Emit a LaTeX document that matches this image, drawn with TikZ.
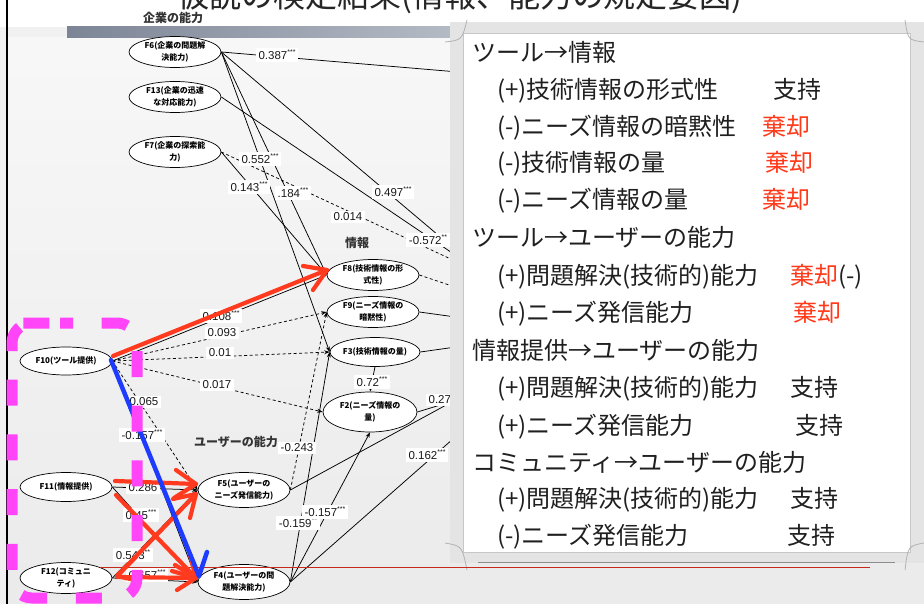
\documentclass[tikz,border=0pt]{standalone}
\usepackage{fontspec}
\setmainfont{Noto Sans CJK JP}
\newfontfamily\numf{Liberation Sans}
\usetikzlibrary{arrows.meta,shapes.geometric}
\definecolor{bgc}{HTML}{F1F1F1}
\definecolor{pinkc}{HTML}{FF45F7}
\definecolor{redc}{HTML}{FF3A1E}
\definecolor{bluec}{HTML}{1E3CFF}
\definecolor{rejc}{HTML}{FF3A1A}
\definecolor{framec}{HTML}{E4E4E4}
\definecolor{barl}{HTML}{7C8596}
\definecolor{barr}{HTML}{B5BBC5}
\definecolor{thinred}{HTML}{C42A1C}
\newcommand\st[1]{\raisebox{.45em}{\fontsize{7}{7}\selectfont #1}}
\tikzset{
 fac/.style={draw, ellipse, fill=white, line width=0.7pt, inner sep=-6pt, minimum width=92pt, minimum height=31pt, align=center, font=\fontsize{8}{11.5}\selectfont\bfseries},
 coef/.style={fill=white, inner xsep=3pt, inner ysep=2pt, font=\numf\fontsize{11.5}{12}\selectfont, text=black!90},
 eline/.style={line width=0.75pt, black},
 dline/.style={eline, dash pattern=on 3pt off 2.5pt},
 arr/.style={eline, -{Stealth[length=5.5pt,width=4pt]}},
 darr/.style={arr, dash pattern=on 3pt off 2.5pt},
 grp/.style={font=\fontsize{12}{12}\selectfont\bfseries, text=black!80},
 ptxt/.style={anchor=base west, inner sep=0pt, font=\fontsize{24}{24}\selectfont, text=black!88},
 rej/.style={ptxt, text=rejc},
 hand/.style={line width=4.2pt, redc, line cap=round, line join=round},
 bhand/.style={line width=4.5pt, bluec, line cap=round, line join=round},
}
\begin{document}
\begin{tikzpicture}[x=1pt,y=-1pt]
\useasboundingbox (0,0) rectangle (924,604);
\clip (0,0) rectangle (924,604);
% background
\fill[bgc] (0,0) rectangle (924,604);
\shade[top color=black!3, bottom color=black!8] (7,38) rectangle (924,604);
\fill[white] (0,0) rectangle (924,27);
\shade[left color=barl, right color=barr] (67,27) rectangle (455,38);
\draw[black, line width=1.3pt] (7,0) -- (7,604);
% title
\node[anchor=base, inner sep=0pt, font=\fontsize{32}{32}\selectfont, text=black!85] (title) at (460,7.5) {仮説の検定結果(情報、能力の規定要因)};
% group labels
\node[grp] (g1) at (173,17.5) {企業の能力};
\node[grp] (g2) at (357,243) {情報};
\node[grp] (g3) at (236,442) {ユーザーの能力};
% factor nodes
\node[fac] (F6) at (175,52) {F6(企業の問題解\\決能力)};
\node[fac] (F13) at (175,97) {F13(企業の迅速\\な対応能力)};
\node[fac] (F7) at (175,152) {F7(企業の探索能\\力)};
\node[fac] (F8) at (373,275) {F8(技術情報の形\\式性)};
\node[fac] (F9) at (373,312) {F9(ニーズ情報の\\暗黙性)};
\node[fac, minimum width=90pt, minimum height=29pt] (F3) at (375,352) {F3(技術情報の量)};
\node[fac, minimum width=94pt, minimum height=40pt] (F2) at (370,412) {F2(ニーズ情報の\\量)};
\node[fac, minimum height=28pt] (F10) at (66,361) {F10(ツール提供)};
\node[fac, minimum height=29pt] (F11) at (66,487) {F11(情報提供)};
\node[fac] (F12) at (66,578) {F12(コミュニ\\ティ)};
\node[fac, minimum height=35pt] (F5) at (244,490) {F5(ユーザーの\\ニーズ発信能力)};
\node[fac, minimum height=35pt] (F4) at (244,582) {F4(ユーザーの問\\題解決能力)};
% hidden targets behind the panel
\coordinate (h1) at (470,73);
\coordinate (h2) at (470,262);
\coordinate (h3) at (470,265);
\coordinate (h4) at (470,268);
\coordinate (h5) at (470,292);
\coordinate (h6) at (470,319);
\coordinate (h7) at (470,345);
\coordinate (h8) at (470,392);
\coordinate (h9) at (470,424);
\coordinate (h10) at (470,396);
% paths
\draw[eline] (F6.east) -- (h1);
\draw[eline] (F6.east) -- (h2);
\draw[arr] (F6.east) -- (F8.west);
\draw[arr] (F6.east) -- (F3.west);
\draw[eline] (F13.east) -- (h3);
\draw[arr] (F7.east) -- (F8.west);
\draw[dline] (F7.east) -- (h4);
\draw[dline] (F8.east) -- (h5);
\draw[eline] (F9.east) -- (h6);
\draw[eline] (F3.east) -- (h7);
\draw[arr] (F3.south) -- (F2.north);
\draw[arr] (F10.east) -- (F8.west);
\draw[darr] (F10.east) -- (F9.west);
\draw[darr] (F10.east) -- (F3.west);
\draw[darr] (F10.east) -- (F2.west);
\draw[darr] (F10.east) -- (F5.west);
\draw[arr] (F10.east) -- (F4.west);
\draw[arr] (F11.east) -- (F5.west);
\draw[arr] (F11.east) -- (F4.west);
\draw[arr] (F12.east) -- (F5.west);
\draw[arr] (F12.east) -- (F4.west);
\draw[darr] (F5.east) -- (F9.west);
\draw[eline] (F5.east) -- (h8);
\draw[eline] (F2.east) -- (h10);
\draw[arr] (F4.east) -- (F3.west);
\draw[arr] (F4.east) -- (F2.south);
\draw[eline] (F4.east) -- (h9);
% coefficients
\node[coef] (c1) at (277,55) {0.387\st{***}};
\node[coef] (c2) at (393,192) {0.497\st{***}};
\node[coef] (c3) at (428,240) {-0.572\st{**}};
\node[coef] (c4) at (260,159) {0.552\st{***}};
\node[coef] (c5) at (293,193) {.184\st{***}};
\node[coef] (c6) at (249,187) {0.143\st{***}};
\node[coef] (c7) at (348,217) {0.014};
\node[coef] (c8) at (372,382) {0.72\st{***}};
\node[coef] (c9) at (221,316) {0.108\st{***}};
\node[coef] (c10) at (222,333) {0.093};
\node[coef] (c11) at (220,353) {0.01};
\node[coef] (c12) at (217,385) {0.017};
\node[coef] (c13) at (144,402) {0.065};
\node[coef] (c14) at (142,435) {-0.157\st{***}};
\node[coef] (c15) at (143,488) {0.286};
\node[coef] (c16) at (141,515) {0.45\st{***}};
\node[coef] (c17) at (133,555) {0.543\st{**}};
\node[coef] (c18) at (147,575) {0.657\st{***}};
\node[coef] (c19) at (297,448) {-0.243};
\node[coef] (c20) at (443,400) {0.273};
\node[coef] (c21) at (298,523) {-0.159\st{**}};
\node[coef] (c22) at (325,512) {-0.157\st{***}};
\node[coef] (c23) at (427,455) {0.162\st{***}};
% right panel
\fill[framec] (450,22) rectangle (924,563);
\fill[white] (463,33) rectangle (910,552);
\draw[black!22, line width=0.6pt] (463,33) rectangle (910,552);
\draw[black!30, line width=0.8pt] (445,42) .. controls (462,40) .. (467,20);
\draw[black!30, line width=0.8pt] (924,42) .. controls (908,40) .. (905,20);
\draw[black!30, line width=0.8pt] (445,543) .. controls (462,546) .. (467,570);
\draw[black!30, line width=0.8pt] (924,543) .. controls (908,546) .. (905,570);
\draw[black!45, line width=1.2pt] (478,562.5) -- (895,562.5);
% panel text
\node[ptxt] (p1) at (472,62) {ツール→情報};
\node[ptxt] (p2) at (497,99) {(+)技術情報の形式性};
\node[ptxt] (q2) at (773,99) {支持};
\node[ptxt] (p3) at (497,136) {(-)ニーズ情報の暗黙性};
\node[rej] (q3) at (762,136) {棄却};
\node[ptxt] (p4) at (497,172) {(-)技術情報の量};
\node[rej] (q4) at (765,172) {棄却};
\node[ptxt] (p5) at (497,209) {(-)ニーズ情報の量};
\node[rej] (q5) at (762,209) {棄却};
\node[ptxt] (p6) at (472,247) {ツール→ユーザーの能力};
\node[ptxt] (p7) at (497,284) {(+)問題解決(技術的)能力};
\node[ptxt] (q7) at (790,284) {\textcolor{rejc}{棄却}(-)};
\node[ptxt] (p8) at (497,321) {(+)ニーズ発信能力};
\node[rej] (q8) at (793,321) {棄却};
\node[ptxt] (p9) at (472,359) {情報提供→ユーザーの能力};
\node[ptxt] (p10) at (497,396) {(+)問題解決(技術的)能力};
\node[ptxt] (q10) at (790,396) {支持};
\node[ptxt] (p11) at (497,434) {(+)ニーズ発信能力};
\node[ptxt] (q11) at (795,434) {支持};
\node[ptxt] (p12) at (472,471) {コミュニティ→ユーザーの能力};
\node[ptxt] (p13) at (497,507) {(+)問題解決(技術的)能力};
\node[ptxt] (q13) at (790,507) {支持};
\node[ptxt] (p14) at (497,544) {(-)ニーズ発信能力};
\node[ptxt] (q14) at (787,544) {支持};
% thin red line
\coordinate (rl1) at (100,567);
\coordinate (rl2) at (870,567);
\draw[thinred, line width=0.9pt] (rl1) -- (rl2);
% hand-drawn red arrows
\coordinate (r0s) at (113,356);
\coordinate (r0t) at (327,270);
\draw[hand] (r0s) -- (r0t);
\draw[hand] (303,266) -- (r0t) -- (313,290);
\coordinate (r1s) at (115,481);
\coordinate (r1t) at (196,484);
\draw[hand] (r1s) -- (r1t);
\draw[hand] (176,470) -- (r1t) -- (174,498);
\coordinate (r2s) at (117,576);
\coordinate (r2t) at (196,494);
\draw[hand] (r2s) -- (r2t);
\draw[hand] (173,499) -- (r2t) -- (190,518);
\draw[hand] (136,557) -- (r2s) -- (139,581);
\coordinate (r3s) at (116,495);
\coordinate (r3t) at (196,578);
\draw[hand] (r3s) -- (r3t);
\draw[hand] (172,571) -- (r3t) -- (190,555);
\coordinate (r4s) at (118,577);
\coordinate (r4t) at (196,578);
\draw[hand] (r4s) -- (r4t);
\draw[hand] (175,565) -- (r4t) -- (177,590);
% blue stroke
\coordinate (b0s) at (111,360);
\coordinate (b0t) at (199,576);
\draw[bhand] (b0s) -- (b0t);
\draw[bhand] (207,552) -- (b0t);
% magenta dashed frame
\draw[pinkc, line width=11pt, rounded corners=20pt, dash pattern=on 26pt off 28.7pt, dash phase=13pt] (40,323) -- (137,323) -- (137,598) -- (12,598) -- (12,323) -- cycle;
\end{tikzpicture}
\end{document}
